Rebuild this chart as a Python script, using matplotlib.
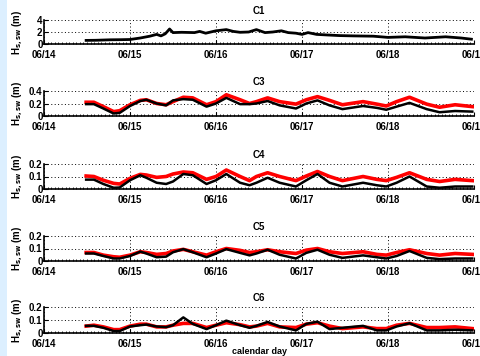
import matplotlib
matplotlib.use("Agg")
import matplotlib.pyplot as plt
from matplotlib.patches import Rectangle
from matplotlib.ticker import MultipleLocator

plt.rcParams['font.family'] = ['Liberation Sans', 'DejaVu Sans']
plt.rcParams['font.weight'] = 'bold'
plt.rcParams['mathtext.default'] = 'bf'

# ---- data (days since 06/14 00:00) ----
day_ticks = [0, 1, 2, 3, 4, 5]
day_labels = ["06/14", "06/15", "06/16", "06/17", "06/18", "06/19"]

c1_t = [0.49, 0.6, 0.77, 0.9, 1.0, 1.12, 1.23, 1.31, 1.36, 1.41, 1.46, 1.50, 1.6, 1.75, 1.81,
        1.88, 2.0, 2.12, 2.2, 2.28, 2.38, 2.47, 2.57, 2.66, 2.76, 2.84, 2.93, 3.0, 3.07, 3.17,
        3.3, 3.44, 3.6, 3.83, 4.0, 4.2, 4.43, 4.67, 4.85, 4.97]
c1 = [0.6, 0.62, 0.7, 0.72, 0.75, 1.0, 1.3, 1.6, 1.35, 1.7, 2.5, 1.9, 1.95, 1.9, 2.1,
      1.8, 2.2, 2.4, 2.1, 1.95, 2.0, 2.4, 1.9, 2.0, 2.2, 1.9, 1.8, 1.6, 1.9, 1.6,
      1.5, 1.4, 1.35, 1.3, 1.1, 1.2, 1.0, 1.2, 1.0, 0.8]

t = [0.49, 0.58, 0.69, 0.81, 0.88, 1.0, 1.12, 1.19, 1.31, 1.42, 1.50, 1.62, 1.73, 1.89, 2.0,
     2.12, 2.28, 2.39, 2.47, 2.60, 2.74, 2.93, 3.05, 3.18, 3.32, 3.47, 3.71, 3.87, 3.98, 4.10,
     4.25, 4.45, 4.60, 4.78, 4.98]

c3_red = [0.22, 0.22, 0.15, 0.07, 0.085, 0.18, 0.25, 0.26, 0.2, 0.18, 0.23, 0.30, 0.29, 0.18, 0.23,
          0.34, 0.26, 0.2, 0.23, 0.29, 0.23, 0.19, 0.26, 0.31, 0.25, 0.18, 0.23, 0.19, 0.16, 0.23,
          0.30, 0.19, 0.14, 0.18, 0.15]
c3_blk = [0.19, 0.19, 0.12, 0.04, 0.05, 0.16, 0.24, 0.26, 0.2, 0.17, 0.25, 0.27, 0.26, 0.15, 0.2,
          0.29, 0.19, 0.19, 0.2, 0.24, 0.17, 0.12, 0.2, 0.25, 0.17, 0.11, 0.16, 0.13, 0.1, 0.15,
          0.21, 0.11, 0.06, 0.08, 0.07]

c4_red = [0.104, 0.1, 0.07, 0.045, 0.04, 0.085, 0.117, 0.112, 0.093, 0.1, 0.12, 0.136, 0.13, 0.077, 0.1,
          0.152, 0.1, 0.067, 0.1, 0.13, 0.1, 0.067, 0.104, 0.14, 0.1, 0.067, 0.1, 0.077, 0.067, 0.093,
          0.13, 0.077, 0.06, 0.077, 0.067]
c4_blk = [0.075, 0.075, 0.04, 0.01, 0.012, 0.07, 0.11, 0.09, 0.05, 0.04, 0.06, 0.12, 0.11, 0.04, 0.07,
          0.12, 0.05, 0.03, 0.05, 0.09, 0.05, 0.02, 0.07, 0.12, 0.05, 0.02, 0.05, 0.03, 0.02, 0.05,
          0.1, 0.02, 0.01, 0.02, 0.02]

c5_red = [0.068, 0.068, 0.047, 0.034, 0.03, 0.047, 0.074, 0.068, 0.053, 0.06, 0.08, 0.093, 0.074, 0.047, 0.074,
          0.1, 0.085, 0.068, 0.074, 0.09, 0.074, 0.06, 0.087, 0.1, 0.074, 0.06, 0.074, 0.053, 0.047, 0.068,
          0.09, 0.06, 0.047, 0.06, 0.053]
c5_blk = [0.06, 0.06, 0.04, 0.02, 0.02, 0.04, 0.075, 0.06, 0.03, 0.035, 0.07, 0.095, 0.07, 0.03, 0.06,
          0.095, 0.065, 0.045, 0.06, 0.09, 0.05, 0.02, 0.065, 0.09, 0.05, 0.025, 0.045, 0.03, 0.02, 0.04,
          0.08, 0.025, 0.015, 0.02, 0.02]

c6_red = [0.053, 0.06, 0.047, 0.026, 0.026, 0.053, 0.068, 0.068, 0.047, 0.047, 0.06, 0.074, 0.074, 0.042, 0.06,
          0.079, 0.064, 0.047, 0.053, 0.074, 0.047, 0.042, 0.068, 0.079, 0.053, 0.034, 0.047, 0.034, 0.034, 0.06,
          0.074, 0.042, 0.042, 0.047, 0.034]
c6_blk = [0.055, 0.055, 0.04, 0.015, 0.015, 0.05, 0.06, 0.065, 0.05, 0.045, 0.06, 0.12, 0.07, 0.03, 0.06,
          0.095, 0.06, 0.04, 0.055, 0.085, 0.05, 0.02, 0.07, 0.087, 0.03, 0.04, 0.055, 0.02, 0.02, 0.05,
          0.075, 0.02, 0.02, 0.025, 0.02]

titles = ["C1", "C3", "C4", "C5", "C6"]
ylims = [(0, 4), (0, 0.4), (0, 0.2), (0, 0.2), (0, 0.2)]
yticks = [[0, 2, 4], [0, 0.2, 0.4], [0, 0.1, 0.2], [0, 0.1, 0.2], [0, 0.1, 0.2]]

# ---- layout (pixels) ----
W, H = 480, 356
fig = plt.figure(figsize=(W / 100, H / 100), dpi=100)
fig.patches.append(Rectangle((0, 0), 7 / W, 1, transform=fig.transFigure,
                             facecolor='#dcefff', edgecolor='none', zorder=-10))
x0, x1 = 44, 474
boxes = [(20, 44), (91, 116), (164, 189), (236, 261), (307, 333)]

series = [(None, c1), (c3_red, c3_blk), (c4_red, c4_blk), (c5_red, c5_blk), (c6_red, c6_blk)]

for i, ((top, bot), (red, blk)) in enumerate(zip(boxes, series)):
    ax = fig.add_axes([x0 / W, 1 - bot / H, (x1 - x0) / W, (bot - top) / H])
    if i == 0:
        ax.plot(c1_t, blk, color='black', lw=2.0, solid_joinstyle='round')
    else:
        ax.plot(t, red, color='red', lw=2.6, solid_joinstyle='round')
        ax.plot(t, blk, color='black', lw=1.8, solid_joinstyle='round')
    ax.set_xlim(0, 5)
    ax.set_ylim(*ylims[i])
    ax.set_xticks(day_ticks)
    ax.set_xticklabels(day_labels)
    ax.set_yticks(yticks[i])
    ax.set_yticklabels([("%g" % v) for v in yticks[i]])
    ax.xaxis.set_minor_locator(MultipleLocator(1 / 24))
    ax.grid(True, which='major', color='black', linestyle=(0, (1, 2.5)), lw=0.7)
    ax.spines['top'].set_visible(False)
    ax.spines['right'].set_visible(False)
    ax.spines['left'].set_linewidth(1.2)
    ax.spines['bottom'].set_linewidth(1.2)
    ax.tick_params(axis='both', which='major', direction='in', length=3, width=0.8,
                   labelsize=7, pad=1)
    ax.tick_params(axis='x', which='major', pad=4)
    ax.tick_params(axis='x', which='minor', direction='in', length=1.5, width=0.6)
    for lab in ax.get_xticklabels() + ax.get_yticklabels():
        lab.set_fontweight('bold')
    ax.set_title(titles[i], fontsize=7, fontweight='bold', pad=4)
    ax.set_ylabel(r"H$_{\mathbf{s,sw}}$ (m)", fontsize=7, fontweight='bold', labelpad=2)
    ax.yaxis.set_label_coords(-0.045, 0.5)
    ax.set_facecolor('none')
    if i == 4:
        ax.set_xlabel("calendar day", fontsize=6.5, fontweight='bold', labelpad=-1)

fig.savefig("out.png", dpi=100)
